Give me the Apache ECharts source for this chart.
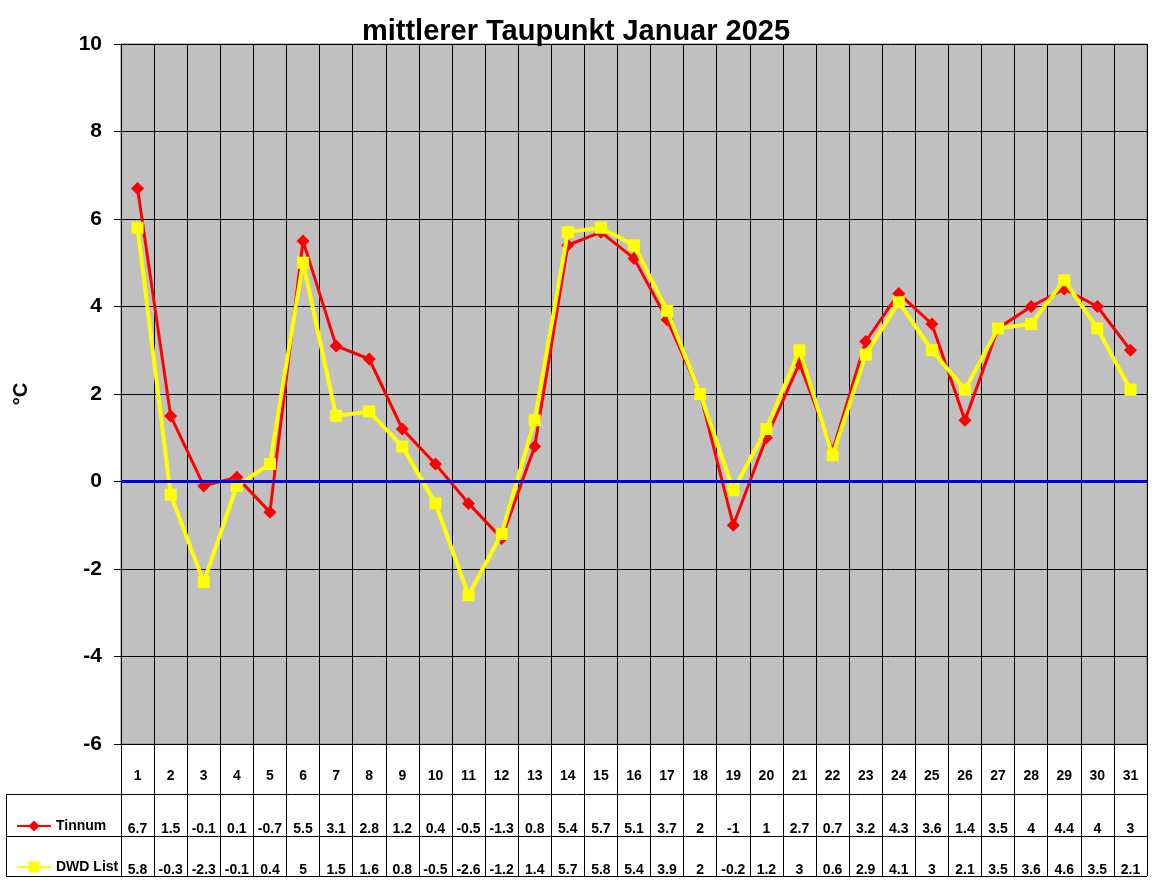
<!DOCTYPE html>
<html lang="de">
<head>
    <meta charset="UTF-8">
    <title>mittlerer Taupunkt Januar 2025</title>
    <style>
        html, body { margin: 0; padding: 0; background: #fff; }
    </style>
</head>
<body>
<div id="main" style="width: 1152px;height: 882px"></div>
<script src="https://cdn.jsdelivr.net/npm/echarts@6/dist/echarts.min.js"></script>
<script>
    // Tage im Januar
    var days = ['1', '2', '3', '4', '5', '6', '7', '8', '9', '10', '11', '12', '13', '14', '15', '16',
        '17', '18', '19', '20', '21', '22', '23', '24', '25', '26', '27', '28', '29', '30', '31'];
    // mittlerer Taupunkt Tinnum
    var tinnum = [6.7, 1.5, -0.1, 0.1, -0.7, 5.5, 3.1, 2.8, 1.2, 0.4, -0.5, -1.3, 0.8, 5.4, 5.7, 5.1,
        3.7, 2, -1, 1, 2.7, 0.7, 3.2, 4.3, 3.6, 1.4, 3.5, 4, 4.4, 4, 3];
    // mittlerer Taupunkt DWD List
    var dwdList = [5.8, -0.3, -2.3, -0.1, 0.4, 5, 1.5, 1.6, 0.8, -0.5, -2.6, -1.2, 1.4, 5.7, 5.8, 5.4,
        3.9, 2, -0.2, 1.2, 3, 0.6, 2.9, 4.1, 3, 2.1, 3.5, 3.6, 4.6, 3.5, 2.1];
    var yTicks = {min: -6, max: 10, interval: 2};

    var font = 'Arial, "Liberation Sans", sans-serif';
    var container = document.getElementById('main');
    var myChart = echarts.init(container);

    function tableAxis(offset, values) {
        return {
            type: 'category',
            gridIndex: 1,
            position: 'bottom',
            offset: offset,
            data: days,
            axisLine: {show: false, onZero: false},
            axisTick: {show: false},
            splitLine: {show: false},
            axisLabel: {
                interval: 0,
                margin: 0,
                verticalAlign: 'middle',
                color: '#000',
                fontFamily: font,
                fontWeight: 'bold',
                fontSize: 14,
                formatter: function (v, i) {
                    return String(values[i]);
                }
            }
        };
    }

    var option = {
        animation: false,
        backgroundColor: '#fff',
        title: {
            text: 'mittlerer Taupunkt Januar 2025',
            left: 'center',
            top: 12,
            textStyle: {
                color: '#000',
                fontFamily: font,
                fontWeight: 'bold',
                fontSize: 29
            }
        },
        legend: {
            data: ['Tinnum', 'DWD List'],
            orient: 'vertical',
            left: 11,
            top: 814,
            itemWidth: 34,
            itemHeight: 14,
            itemGap: 27,
            textStyle: {
                color: '#000',
                fontFamily: font,
                fontWeight: 'bold',
                fontSize: 14,
                padding: [14, 0, 0, 0]
            }
        },
        grid: [
            {
                left: 121, top: 44, width: 1026, height: 700,
                show: true,
                backgroundColor: '#C0C0C0',
                borderColor: '#808080',
                borderWidth: 1
            },
            {
                left: 121, top: 744, width: 1026, height: 132,
                show: false
            }
        ],
        xAxis: [
            {
                type: 'category',
                gridIndex: 0,
                data: days,
                axisLine: {lineStyle: {color: '#000'}},
                axisTick: {show: false},
                axisLabel: {show: false},
                splitLine: {show: true, interval: 0, lineStyle: {color: '#000', width: 1}}
            },
            {
                type: 'category',
                gridIndex: 1,
                data: days,
                axisLine: {show: false, onZero: false},
                axisTick: {show: false},
                axisLabel: {show: false},
                splitLine: {show: true, interval: 0, lineStyle: {color: '#000', width: 1}}
            },
            tableAxis(-100, days),
            tableAxis(-47, tinnum),
            tableAxis(-6, dwdList)
        ],
        yAxis: [
            {
                type: 'value',
                gridIndex: 0,
                min: yTicks.min,
                max: yTicks.max,
                interval: yTicks.interval,
                name: '°C',
                nameLocation: 'middle',
                nameRotate: 90,
                nameGap: 90,
                nameTextStyle: {
                    color: '#000',
                    fontFamily: font,
                    fontWeight: 'bold',
                    fontSize: 20
                },
                axisLine: {show: true, lineStyle: {color: '#000'}},
                axisTick: {show: true, length: 7, lineStyle: {color: '#000'}},
                axisLabel: {
                    margin: 19,
                    color: '#000',
                    fontFamily: font,
                    fontWeight: 'bold',
                    fontSize: 21
                },
                splitLine: {show: true, lineStyle: {color: '#000', width: 1}}
            },
            {
                type: 'value',
                gridIndex: 1,
                min: 0,
                max: 1,
                show: false
            }
        ],
        graphic: [
            {type: 'line', shape: {x1: 6, y1: 794.5, x2: 1147, y2: 794.5}, style: {stroke: '#000', lineWidth: 1}},
            {type: 'line', shape: {x1: 6, y1: 836.5, x2: 1147, y2: 836.5}, style: {stroke: '#000', lineWidth: 1}},
            {type: 'line', shape: {x1: 6, y1: 876.5, x2: 1147, y2: 876.5}, style: {stroke: '#000', lineWidth: 1}},
            {type: 'line', shape: {x1: 6.5, y1: 794, x2: 6.5, y2: 877}, style: {stroke: '#000', lineWidth: 1}}
        ],
        series: [
            {
                type: 'line',
                xAxisIndex: 0,
                yAxisIndex: 0,
                data: [],
                z: 1,
                silent: true,
                markLine: {
                    silent: true,
                    symbol: 'none',
                    label: {show: false},
                    lineStyle: {color: '#0000DD', width: 3, type: 'solid'},
                    data: [{yAxis: 0}]
                }
            },
            {
                name: 'Tinnum',
                type: 'line',
                xAxisIndex: 0,
                yAxisIndex: 0,
                data: tinnum,
                symbol: 'diamond',
                symbolSize: 13,
                itemStyle: {color: '#FF0000'},
                lineStyle: {color: '#FF0000', width: 3},
                z: 3
            },
            {
                name: 'DWD List',
                type: 'line',
                xAxisIndex: 0,
                yAxisIndex: 0,
                data: dwdList,
                symbol: 'rect',
                symbolSize: 12,
                itemStyle: {color: '#FFFF00'},
                lineStyle: {color: '#FFFF00', width: 4},
                z: 4
            }
        ]
    };

    myChart.setOption(option);
</script>
</body>
</html>
